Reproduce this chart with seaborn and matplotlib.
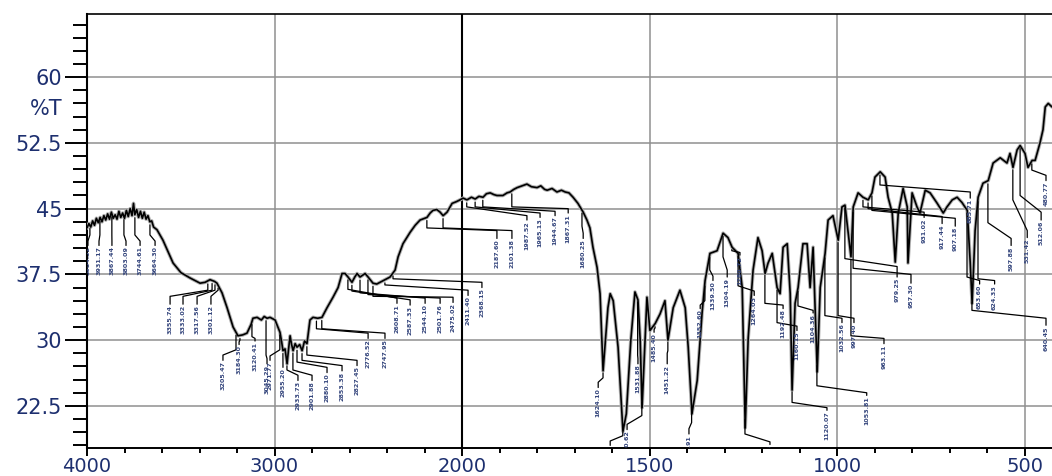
import numpy as np
import pandas as pd
import matplotlib
matplotlib.use("Agg")
import matplotlib.pyplot as plt
import matplotlib.transforms as mtransforms
from matplotlib.ticker import FixedLocator
import seaborn as sns

# spectrum (wavenumber in 1/cm, transmittance in %T)
wavenumber = [
    4000, 3990, 3980, 3970, 3960, 3950, 3940, 3930, 3920, 3910, 3900, 3890, 3880, 3870,
    3860, 3850, 3840, 3830, 3820, 3810, 3800, 3790, 3780, 3770, 3760, 3752, 3745, 3735,
    3725, 3715, 3705, 3695, 3685, 3675, 3665, 3655, 3645, 3627, 3595, 3541, 3499, 3451,
    3397, 3370, 3344, 3320, 3307, 3280, 3253, 3221, 3195, 3170, 3147, 3125, 3115, 3093,
    3070, 3055, 3040, 3024, 2997, 2971, 2962, 2955, 2944, 2933, 2925, 2917, 2909, 2901,
    2890, 2880, 2866, 2853, 2840, 2827, 2811, 2795, 2770, 2747, 2720, 2688, 2661, 2640,
    2624, 2608, 2587, 2572, 2560, 2544, 2530, 2517, 2501, 2475, 2455, 2437, 2410, 2384,
    2357, 2341, 2315, 2277, 2250, 2224, 2187, 2170, 2155, 2135, 2117, 2101, 2080, 2053,
    2030, 2011, 1997, 1987, 1975, 1965, 1955, 1944, 1935, 1925, 1915, 1907, 1891, 1880,
    1872, 1862, 1853, 1840, 1827, 1815, 1800, 1790, 1780, 1773, 1760, 1747, 1735, 1725,
    1715, 1704, 1691, 1677, 1667, 1659, 1651, 1640, 1632, 1624, 1611, 1605, 1597, 1584,
    1571, 1562, 1550, 1539, 1531, 1525, 1520, 1514, 1507, 1499, 1485, 1472, 1459, 1451,
    1437, 1419, 1405, 1397, 1387, 1373, 1360, 1352, 1339, 1320, 1304, 1291, 1280, 1264,
    1253, 1245, 1237, 1224, 1211, 1200, 1192, 1184, 1173, 1160, 1152, 1144, 1133, 1125,
    1120, 1112, 1104, 1091, 1080, 1072, 1064, 1053, 1045, 1032, 1024, 1011, 997, 987,
    979, 971, 963, 957, 944, 931, 917, 907, 899, 885, 872, 864, 853, 845,
    837, 824, 813, 811, 800, 787, 779, 765, 752, 733, 717, 707, 693, 680,
    667, 653, 645, 640, 632, 624, 611, 597, 584, 565, 547, 539, 531, 520,
    512, 499, 491, 480, 472, 459, 451, 445, 437, 427,
]
transmittance = [
    42.8, 43.3, 42.9, 43.6, 43.1, 43.9, 43.4, 44.0, 43.5, 44.2, 43.7, 44.4, 43.8, 44.6,
    43.9, 44.3, 43.8, 44.7, 44.0, 44.5, 43.9, 44.8, 44.1, 45.0, 44.2, 45.6, 44.3, 44.9,
    44.0, 44.7, 43.9, 44.6, 43.8, 44.2, 43.5, 43.6, 42.9, 42.6, 41.4, 38.8, 37.7, 37.1,
    36.5, 36.6, 36.9, 36.7, 36.5, 35.4, 33.7, 31.5, 30.5, 30.6, 30.8, 31.8, 32.5, 32.6,
    32.3, 32.7, 32.5, 32.6, 32.3, 30.9, 29.8, 28.8, 29.0, 27.3, 29.0, 30.5, 29.5, 28.8,
    29.6, 29.2, 29.5, 28.8, 29.9, 29.6, 32.3, 32.6, 32.5, 32.6, 33.7, 34.9, 36.0, 37.6,
    37.6, 37.2, 36.6, 37.2, 37.6, 37.2, 37.4, 37.6, 37.2, 36.5, 36.4, 36.6, 36.9, 37.2,
    38.0, 39.5, 41.0, 42.3, 43.1, 43.7, 44.0, 44.5, 44.8, 44.9, 44.6, 44.2, 44.6, 45.6,
    45.8, 46.0, 46.2, 46.0, 46.3, 46.1, 46.4, 46.3, 46.7, 46.8, 46.6, 46.5, 46.5, 46.8,
    46.9, 47.2, 47.4, 47.6, 47.8, 47.5, 47.4, 47.6, 47.2, 47.1, 47.3, 46.9, 47.1, 46.9,
    46.8, 46.3, 45.6, 44.6, 43.7, 42.8, 40.6, 38.3, 35.3, 26.5, 33.7, 35.3, 34.5, 29.2,
    19.6, 21.6, 30.0, 35.5, 34.6, 30.0, 22.3, 28.0, 34.9, 31.1, 31.9, 33.0, 34.5, 30.0,
    33.7, 35.7, 33.7, 29.2, 21.6, 25.4, 33.1, 36.8, 39.9, 40.2, 42.2, 41.7, 40.6, 39.9,
    36.0, 20.0, 30.3, 38.0, 41.7, 40.2, 37.6, 38.8, 39.9, 36.0, 35.3, 40.6, 41.0, 35.3,
    24.3, 34.2, 36.0, 41.0, 41.0, 36.0, 40.6, 26.4, 36.0, 39.9, 43.7, 44.2, 41.4, 45.2,
    45.4, 42.5, 39.5, 45.2, 46.8, 46.3, 46.0, 46.8, 48.6, 49.2, 48.6, 46.3, 44.5, 38.9,
    44.5, 47.3, 45.2, 38.8, 46.8, 45.2, 44.5, 47.1, 46.8, 45.6, 44.5, 45.2, 46.0, 46.3,
    45.7, 44.8, 38.8, 34.2, 42.5, 46.3, 47.9, 48.2, 50.2, 50.8, 50.2, 51.3, 49.7, 51.7,
    52.2, 51.3, 49.7, 50.5, 50.5, 52.5, 54.0, 56.6, 57.0, 56.6,
]

# labelled peaks
peak_wn = [
    3984.52, 3931.17, 3867.44, 3803.09, 3744.61, 3664.30,
    3355.74, 3333.02, 3317.56, 3301.12,
    3205.47, 3184.30, 3120.41, 3045.29,
    2971.77, 2955.20, 2933.73, 2901.88, 2880.10, 2853.38, 2827.45,
    2776.52, 2747.95,
    2608.71, 2587.33, 2544.10, 2501.76, 2475.02, 2411.40, 2368.15,
    2187.60, 2101.38,
    1987.52, 1965.13, 1944.67, 1867.31, 1680.25,
    1624.10, 1571.34, 1520.62, 1531.88, 1485.40, 1451.22, 1387.91,
    1352.60, 1339.50, 1304.19, 1280.72, 1264.03, 1245.66,
    1192.48, 1160.15, 1120.07, 1104.36, 1053.81, 1032.56, 997.40, 963.11,
    979.25, 957.30, 885.71, 931.02, 917.44, 907.18,
    653.60, 624.33, 640.45, 597.88, 531.42, 512.06, 480.77,
]

# where each peak label hangs (layout only)
label_wn = [
    3995, 3936, 3867, 3792, 3717, 3637,
    3557, 3488, 3413, 3339,
    3275, 3189, 3104, 3040,
    3024, 2955, 2875, 2800, 2720, 2640, 2560,
    2501, 2411,
    2347, 2277, 2197, 2117, 2048, 1984, 1947,
    1907, 1867,
    1827, 1792, 1752, 1717, 1677,
    1637, 1605, 1560, 1531, 1488, 1453, 1395,
    1365, 1331, 1293, 1259, 1221, 1179,
    1144, 1107, 1027, 1064, 921, 987, 955, 875,
    840, 803, 645, 768, 720, 685,
    620, 580, 443, 536, 493, 456, 443,
]
knee_near = [
    42.0, 42.0, 42.0, 42.0, 42.0, 42.0,
    35.7, 35.7, 35.7, 35.7,
    28.9, 30.0, 30.4, 28.3,
    28.9, 28.1, 26.6, 26.6, 27.5, 27.7, 28.3,
    31.3, 31.3,
    35.8, 35.6, 35.4, 35.2, 35.0, 36.3, 37.0,
    42.8, 42.8,
    45.2, 45.2, 45.2, 45.2, 43.0,
    25.7, 19.1, 21.4, 28.3, 31.4, 28.8, 20.6,
    34.5, 38.0, 39.5, 40.2, 36.2, 19.3,
    34.2, 32.0, 22.9, 33.9, 24.8, 32.8, 32.8, 30.5,
    39.3, 38.2, 47.7, 45.2, 45.0, 44.8,
    37.2, 37.0, 33.4, 43.4, 46.0, 46.5, 49.4,
]
knee_far = [
    41.3, 41.3, 41.3, 41.3, 41.3, 41.3,
    35.0, 35.0, 35.0, 35.0,
    28.3, 29.8, 30.2, 27.9,
    28.2, 27.5, 26.0, 26.0, 26.9, 27.1, 27.7,
    30.8, 30.8,
    34.8, 34.6, 34.8, 34.8, 34.9, 35.7, 36.6,
    42.5, 42.5,
    44.2, 44.5, 44.7, 45.0, 42.2,
    25.2, 18.5, 20.4, 27.9, 31.2, 28.5, 19.9,
    34.0, 37.3, 38.0, 40.0, 35.6, 18.4,
    34.0, 31.6, 22.3, 33.4, 24.0, 32.5, 32.5, 30.2,
    38.4, 37.5, 46.9, 44.6, 44.1, 43.9,
    36.8, 36.8, 32.5, 41.6, 42.5, 44.6, 48.8,
]
label_top = [
    40.8, 40.8, 40.8, 40.8, 40.8, 40.8,
    34.1, 34.1, 34.1, 34.1,
    27.7, 29.5, 29.9, 27.3,
    27.7, 26.9, 25.4, 25.4, 26.3, 26.5, 27.1,
    30.2, 30.2,
    34.2, 34.0, 34.2, 34.2, 34.3, 35.1, 36.0,
    41.6, 41.6,
    43.7, 44.0, 44.2, 44.5, 41.6,
    24.6, 18.0, 19.8, 27.3, 30.9, 27.3, 19.3,
    33.6, 36.8, 37.2, 39.7, 35.1, 18.1,
    33.6, 31.1, 22.0, 33.1, 23.7, 32.0, 32.0, 29.6,
    37.2, 36.5, 46.2, 44.0, 43.3, 43.0,
    36.4, 36.4, 31.7, 40.8, 41.7, 43.7, 48.2,
]

x_major = [4000, 3000, 2000, 1500, 1000, 500]
y_major = [22.5, 30, 37.5, 45, 52.5, 60]
y_labels = ["22.5", "30", "37.5", "45", "52.5", "60"]

text_color = "#1d2f6f"


# the instrument draws 4000-2000 at half the scale of 2000-400
def wn_forward(w):
    w = np.asarray(w, dtype=float)
    return np.where(w >= 2000, 4 + (w - 2000) / 1000.0, w / 500.0)


def wn_inverse(t):
    t = np.asarray(t, dtype=float)
    return np.where(t >= 4, 2000 + (t - 4) * 1000.0, t * 500.0)


sns.set_theme(style="white")
plt.rcParams["font.family"] = ["DejaVu Sans"]

fig = plt.figure(figsize=(10.52, 4.76), dpi=100)
ax = fig.add_axes([0.0827, 0.0588, 0.9173, 0.9118])

df = pd.DataFrame({"wavenumber": wavenumber, "transmittance": transmittance})
sns.lineplot(data=df, x="wavenumber", y="transmittance", ax=ax, sort=False,
             estimator=None, color="#b0b0b0", linewidth=2.6, zorder=3)
sns.lineplot(data=df, x="wavenumber", y="transmittance", ax=ax, sort=False,
             estimator=None, color="black", linewidth=1.2, zorder=4)

ax.set_xscale("function", functions=(wn_forward, wn_inverse))
ax.set_xlim(4000, 427)
ax.set_ylim(17.7, 67.2)

# peak labels with their leader lines
wn_arr = np.array(wavenumber, dtype=float)
tr_arr = np.array(transmittance, dtype=float)
curve_at = np.interp(peak_wn, wn_arr[::-1], tr_arr[::-1])
for pw, lw_, k1, k2, lt, cv in zip(peak_wn, label_wn, knee_near, knee_far, label_top, curve_at):
    ax.plot([pw, pw, lw_, lw_], [cv - 0.35, k1, k2, lt], color="black", linewidth=0.9, zorder=5)
    ax.text(lw_, lt - 0.1, f"{pw:.2f}", rotation=90, ha="center", va="top",
            fontsize=4.6, fontweight="bold", color="#34457c", clip_on=True, zorder=6)

# grid
for yv in y_major:
    ax.axhline(yv, color="#8f8f8f", linewidth=1.1, zorder=1)
for xv in [3000, 1500, 1000, 500]:
    ax.axvline(xv, color="#8f8f8f", linewidth=1.1, zorder=1)
ax.axvline(2000, color="black", linewidth=1.5, zorder=2)

# ticks
ax.xaxis.set_major_locator(FixedLocator(x_major))
ax.set_xticklabels([str(v) for v in x_major])
x_minor = [v for v in list(range(3800, 2000, -200)) + list(range(1900, 400, -100))
           if v not in x_major]
ax.xaxis.set_minor_locator(FixedLocator(x_minor))
ax.yaxis.set_major_locator(FixedLocator(y_major))
ax.set_yticklabels(y_labels)
ax.yaxis.set_minor_locator(FixedLocator(np.arange(18, 67.2, 1.5)))

ax.tick_params(axis="x", which="major", direction="out", length=6.0, width=1.4,
               color="black", labelsize=14, labelcolor=text_color, pad=0.5, bottom=True)
ax.tick_params(axis="x", which="minor", direction="out", length=3.6, width=1.4,
               color="black", bottom=True)
ax.tick_params(axis="y", which="major", direction="out", length=15.8, width=1.4,
               color="black", labelsize=15, labelcolor=text_color, pad=2.2, left=True)
ax.tick_params(axis="y", which="minor", direction="out", length=10, width=1.4,
               color="black", left=True)

ax.set_xlabel("")
ax.set_ylabel("")
for side in ["left", "bottom", "top"]:
    ax.spines[side].set_visible(True)
    ax.spines[side].set_color("black")
ax.spines["left"].set_linewidth(1.5)
ax.spines["bottom"].set_linewidth(1.4)
ax.spines["top"].set_linewidth(1.2)
ax.spines["right"].set_visible(False)

# %T sits among the y tick labels
trans = mtransforms.offset_copy(ax.get_yaxis_transform(), fig=fig, x=-25, y=0, units="dots")
ax.text(0, 56.4, "%T", transform=trans, ha="right", va="center", fontsize=15,
        color=text_color, clip_on=False)

fig.savefig("out.png", dpi=100)
plt.close(fig)
